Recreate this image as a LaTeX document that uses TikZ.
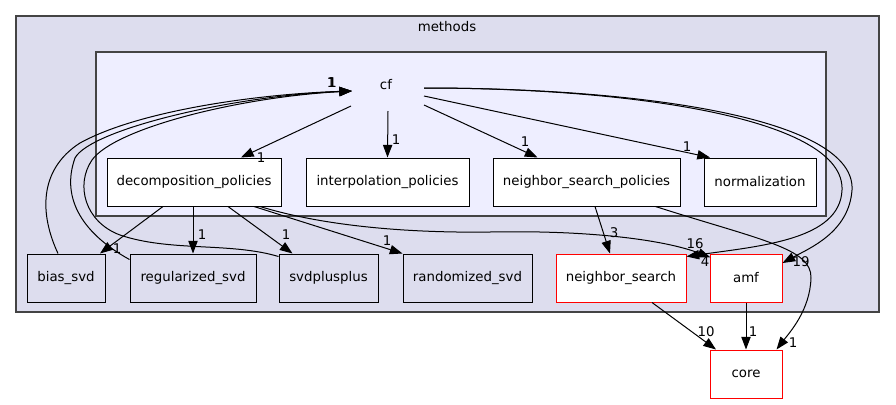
\documentclass[tikz,border=0pt]{standalone}
\usepackage{fontspec}
\setmainfont{DejaVu Sans}
\usetikzlibrary{arrows.meta,calc}
\definecolor{clusterbg}{HTML}{DDDDEE}
\definecolor{innerbg}{HTML}{EEEEFF}
\definecolor{clusterline}{HTML}{444444}
\begin{document}
\begin{tikzpicture}[x=0.75pt,y=-0.75pt,>={Triangle[length=9.5pt,width=7pt]},
  every node/.style={font=\fontsize{10pt}{12pt}\selectfont},
  dirbox/.style={draw=black,fill=white,minimum height=36pt,inner sep=0pt,line width=0.75pt},
  svdbox/.style={dirbox,fill=clusterbg},
  extbox/.style={dirbox,draw=red},
  dep/.style={->,line width=0.75pt},
  lbl/.style={inner sep=0pt}]
  \useasboundingbox (0,0) rectangle (896,404);
  \draw[fill=clusterbg,draw=clusterline,line width=1pt] (16,16) rectangle (879,312);
  \node (methods) at (447,27) {methods};
  \draw[fill=innerbg,draw=clusterline,line width=1pt] (96,52) rectangle (826,216);
  \node (cf) at (386,85) {cf};
  \node[dirbox,minimum width=130.5pt] (decomp) at (194,182) {decomposition\_policies};
  \node[dirbox,minimum width=122.25pt] (interp) at (387.5,182) {interpolation\_policies};
  \node[dirbox,minimum width=140.25pt] (nsp) at (586.5,182) {neighbor\_search\_policies};
  \node[dirbox,minimum width=84pt] (norm) at (760,182) {normalization};
  \node[svdbox,minimum width=58.5pt] (bias) at (66,278) {bias\_svd};
  \node[svdbox,minimum width=94.5pt] (regsvd) at (193,278) {regularized\_svd};
  \node[svdbox,minimum width=74.25pt] (svdpp) at (328.5,278) {svdplusplus};
  \node[svdbox,minimum width=96.75pt] (randsvd) at (467.5,278) {randomized\_svd};
  \node[extbox,minimum width=97.5pt] (ns) at (621,278) {neighbor\_search};
  \node[extbox,minimum width=54pt] (amf) at (746,278) {amf};
  \node[extbox,minimum width=54pt] (core) at (746,374) {core};
  \draw[dep] ($(cf)+(-35,21)$) -- ($(decomp.north)+(47,0)$);
  \draw[dep] ($(cf)+(2,26)$) -- (interp.north);
  \draw[dep] ($(cf)+(38,20)$) -- ($(nsp.north)+(-49,0)$);
  \draw[dep] ($(cf)+(38,11)$) -- ($(norm.north)+(-50,0)$);
  \draw[dep] ($(cf)+(38,3)$) .. controls (640,88) and (845,120) .. (842,190)
    .. controls (840,240) and (760,246) .. ($(ns.north east)+(0,3)$);
  \draw[dep] ($(cf)+(38,3)$) .. controls (650,88) and (856,120) .. (852,190)
    .. controls (849,232) and (810,248) .. ($(amf.east)+(0,-15)$);
  \draw[dep] ($(decomp.south)+(-31,0)$) -- ($(bias.north)+(34,0)$);
  \draw[dep] ($(decomp.south)+(-1,0)$) -- (regsvd.north);
  \draw[dep] ($(decomp.south)+(34,0)$) -- ($(svdpp.north)+(-36,0)$);
  \draw[dep] ($(decomp.south)+(60,0)$) -- ($(randsvd.north)+(-65,0)$);
  \draw[dep] ($(decomp.south)+(66,0)$) .. controls (330,228) and (420,233) .. (490,232)
    .. controls (590,230) and (665,240) .. ($(amf.north west)+(1,4)$);
  \draw[dep] ($(nsp.south)+(8.5,0)$) -- ($(ns.north)+(-11,0)$);
  \draw[dep] ($(nsp.south)+(69,0)$) .. controls (760,240) and (812,248) .. (811,278)
    .. controls (810,310) and (790,332) .. ($(core.north east)+(-6,0)$);
  \draw[dep] ($(ns.south)+(31,0)$) -- ($(core.north)+(-30,0)$);
  \draw[dep] (amf.south) -- (core.north);
  \draw[dep] ($(bias.north)+(-8,0)$) .. controls (40,215) and (38,170) .. (80,143)
    .. controls (140,110) and (260,94) .. ($(cf)+(-34,6)$);
  \draw[dep] ($(regsvd.north west)+(0,6)$) .. controls (85,235) and (60,200) .. (75,158)
    .. controls (90,130) and (230,96) .. ($(cf)+(-34,6)$);
  \draw[dep] ($(svdpp.north west)+(0,3)$) .. controls (230,242) and (170,252) .. (120,235)
    .. controls (85,222) and (75,185) .. (92,160)
    .. controls (115,128) and (240,97) .. ($(cf)+(-34,6)$);
  \node[lbl] (l-decomp) at (261,158) {1};
  \node[lbl] (l-interp) at (396,140) {1};
  \node[lbl] (l-nsp) at (525,142) {1};
  \node[lbl] (l-norm) at (687,147) {1};
  \node[lbl] (l-ns16) at (695,244) {16};
  \node[lbl] (l-amf19) at (801,262) {19};
  \node[lbl] (l-bias) at (117,249) {1};
  \node[lbl] (l-reg) at (202,235) {1};
  \node[lbl] (l-svdpp) at (286,235) {1};
  \node[lbl] (l-rand) at (387,241) {1};
  \node[lbl] (l-amf4) at (705,262) {4};
  \node[lbl] (l-ns3) at (614,233) {3};
  \node[lbl] (l-core1) at (793,343) {1};
  \node[lbl] (l-core10) at (706,332) {10};
  \node[lbl] (l-core-amf) at (753,332) {1};
  \node[lbl] (l-cfa) at (331,83) {1};
  \node[lbl] (l-cfb) at (332,82.5) {1};
  \node[lbl] (l-cfc) at (332.5,83) {1};
\end{tikzpicture}
\end{document}
